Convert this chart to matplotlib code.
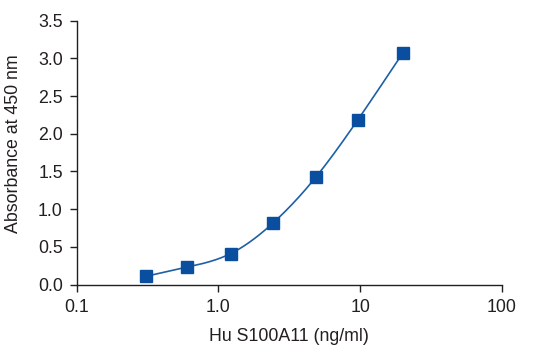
import numpy as np
import matplotlib
matplotlib.use("Agg")
import matplotlib.pyplot as plt
from matplotlib import ticker

concentration = [0.31, 0.60, 1.22, 2.41, 4.9, 9.6, 20.0]
absorbance = [0.11, 0.23, 0.41, 0.81, 1.43, 2.18, 3.07]
x_ticks = [0.1, 1.0, 10, 100]
x_tick_labels = ["0.1", "1.0", "10", "100"]
y_ticks = [0.0, 0.5, 1.0, 1.5, 2.0, 2.5, 3.0, 3.5]
y_tick_labels = ["0.0", "0.5", "1.0", "1.5", "2.0", "2.5", "3.0", "3.5"]

plt.rcParams["font.family"] = ["Liberation Sans", "DejaVu Sans"]
TEXT = "#231f20"


def natural_spline(x, y, xs):
    x = np.asarray(x, float); y = np.asarray(y, float)
    n = len(x)
    h = np.diff(x)
    A = np.zeros((n, n)); b = np.zeros(n)
    A[0, 0] = 1; A[-1, -1] = 1
    for i in range(1, n - 1):
        A[i, i - 1] = h[i - 1]
        A[i, i] = 2 * (h[i - 1] + h[i])
        A[i, i + 1] = h[i]
        b[i] = 3 * ((y[i + 1] - y[i]) / h[i] - (y[i] - y[i - 1]) / h[i - 1])
    c = np.linalg.solve(A, b)
    out = np.empty_like(xs)
    for k, xv in enumerate(xs):
        i = min(max(np.searchsorted(x, xv) - 1, 0), n - 2)
        dx = xv - x[i]
        bi = (y[i + 1] - y[i]) / h[i] - h[i] * (2 * c[i] + c[i + 1]) / 3
        di = (c[i + 1] - c[i]) / (3 * h[i])
        out[k] = y[i] + bi * dx + c[i] * dx ** 2 + di * dx ** 3
    return out


fig = plt.figure(figsize=(5.45, 3.56), dpi=100)
ax = fig.add_axes([0.1407, 0.2008, 0.780, 0.741])

lx = np.log10(concentration)
xs = np.linspace(lx[0], lx[-1], 300)
ys = natural_spline(lx, absorbance, xs)
ax.plot(10 ** xs, ys, color="#1f5fa6", lw=1.2, zorder=2)
ax.plot(concentration, absorbance, linestyle="none", marker="s", markersize=9,
        color="#0a4f9f", zorder=3)

ax.set_xscale("log")
ax.set_xlim(0.1, 100)
ax.set_ylim(0, 3.5)
ax.set_xticks(x_ticks)
ax.set_xticklabels(x_tick_labels)
ax.xaxis.set_minor_locator(ticker.NullLocator())
ax.set_yticks(y_ticks)
ax.set_yticklabels(y_tick_labels)
for s in ["top", "right"]:
    ax.spines[s].set_visible(False)
for s in ["left", "bottom"]:
    ax.spines[s].set_color(TEXT)
    ax.spines[s].set_linewidth(1.0)
ax.tick_params(axis="both", direction="out", length=5, width=1.0, color=TEXT,
               labelsize=12.8, labelcolor=TEXT)
ax.tick_params(axis="y", pad=5)
ax.tick_params(axis="x", pad=5.5)
ax.set_xlabel("Hu S100A11 (ng/ml)", fontsize=12.8, color=TEXT, va="center")
ax.set_ylabel("Absorbance at 450 nm", fontsize=12.8, color=TEXT, va="center")
ax.xaxis.set_label_coords(0.5, -0.197)
ax.yaxis.set_label_coords(-0.149, 0.535)

fig.savefig("out.png", dpi=100)
